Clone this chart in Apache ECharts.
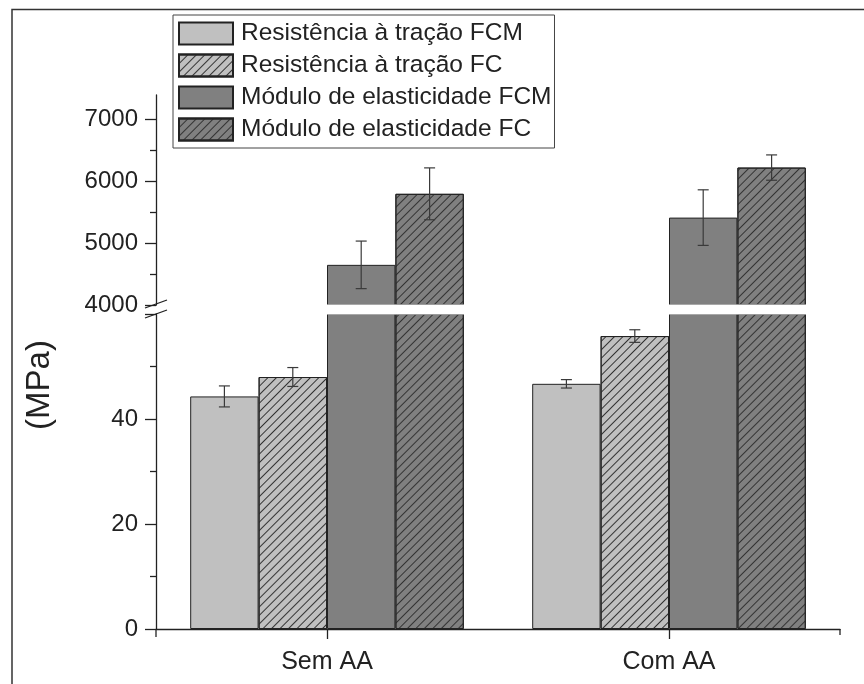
<!DOCTYPE html>
<html>
<head>
<meta charset="utf-8">
<title>Resistência à tração e módulo de elasticidade</title>
<script src="https://cdn.jsdelivr.net/npm/echarts@6/dist/echarts.min.js"></script>
<style>
  html, body { margin: 0; padding: 0; background: #fff; }
  #chart { width: 864px; height: 684px; }
</style>
</head>
<body>
<div id="chart"></div>
<script>
// Categories and series (mean values with standard deviation)
const categories = ['Sem AA', 'Com AA'];
const seriesNames = [
  'Resistência à tração FCM',
  'Resistência à tração FC',
  'Módulo de elasticidade FCM',
  'Módulo de elasticidade FC'
];
const tracaoFCM = [44.3, 46.7];
const tracaoFCMErr = [2.0, 0.8];
const tracaoFC = [48.0, 55.8];
const tracaoFCErr = [1.8, 1.2];
const moduloFCM = [4650, 5415];
const moduloFCMErr = [385, 450];
const moduloFC = [5800, 6225];
const moduloFCErr = [420, 205];

// Broken value axis: lower segment for strength, upper segment for modulus
const lowerTicks = [0, 20, 40, 60];
const upperTickLabels = [4000, 5000, 6000, 7000];
const upperMinorTicks = [4500, 5500, 6500];

const values = [tracaoFCM, tracaoFC, moduloFCM, moduloFC];
const errors = [tracaoFCMErr, tracaoFCErr, moduloFCMErr, moduloFCErr];

const FONT = 'Liberation Sans, Arial, sans-serif';
const TEXT = '#222';
const LIGHT = '#c0c0c0';
const DARK = '#808080';
const hatch = {
  symbol: 'rect',
  symbolSize: 1,
  dashArrayX: [1, 0],
  dashArrayY: [1, 4.2],
  rotation: -Math.PI / 4,
  color: '#333'
};
const styles = [
  { color: LIGHT, borderColor: '#222', borderWidth: 1 },
  { color: LIGHT, borderColor: '#222', borderWidth: 1, decal: hatch },
  { color: DARK, borderColor: '#222', borderWidth: 1 },
  { color: DARK, borderColor: '#222', borderWidth: 1, decal: hatch }
];

const GRID_LEFT = 156, GRID_RIGHT = 24;
const grids = [
  { left: GRID_LEFT, right: GRID_RIGHT, top: 314, bottom: 684 - 629 },
  { left: GRID_LEFT, right: GRID_RIGHT, top: 95, bottom: 684 - 305 }
];

const axisLineStyle = { color: '#222', width: 1.3 };
const plain = v => String(v);

const xAxes = [0, 1].map(g => ({
  type: 'category',
  gridIndex: g,
  data: categories,
  boundaryGap: true,
  show: g === 0,
  axisLine: { show: true, lineStyle: axisLineStyle },
  axisTick: { show: true, alignWithLabel: true, length: 10, lineStyle: axisLineStyle },
  axisLabel: { fontFamily: FONT, fontSize: 25, color: TEXT, margin: 21 }
}));

const yAxes = [
  {
    type: 'value', gridIndex: 0, position: 'left', min: lowerTicks[0], max: lowerTicks[lowerTicks.length - 1], interval: 20,
    splitLine: { show: false },
    axisLine: { show: true, lineStyle: axisLineStyle },
    axisTick: { show: true, length: 11, lineStyle: axisLineStyle },
    minorTick: { show: true, splitNumber: 2, length: 6, lineStyle: axisLineStyle },
    axisLabel: { fontFamily: FONT, fontSize: 24, color: TEXT, margin: 18, showMaxLabel: false, formatter: plain }
  },
  {
    type: 'value', gridIndex: 1, position: 'left', min: 4000, max: 7400, interval: 1000,
    splitLine: { show: false },
    axisLine: { show: true, lineStyle: axisLineStyle },
    axisTick: { show: true, length: 11, lineStyle: axisLineStyle, customValues: upperTickLabels },
    axisLabel: { fontFamily: FONT, fontSize: 24, color: TEXT, margin: 18, customValues: upperTickLabels, formatter: plain }
  },
  {
    // minor ticks of the upper segment
    type: 'value', gridIndex: 1, position: 'left', offset: 0, min: 4000, max: 7400, interval: 500,
    splitLine: { show: false },
    axisLine: { show: false },
    axisTick: { show: true, length: 6, lineStyle: axisLineStyle, customValues: upperMinorTicks },
    axisLabel: { show: false }
  }
];

const series = [];
// bars drawn in both segments; each segment clips what falls outside its range
[0, 1].forEach(g => {
  values.forEach((vals, k) => {
    series.push({
      type: 'bar',
      name: seriesNames[k],
      xAxisIndex: g,
      yAxisIndex: g,
      data: vals,
      clip: true,
      barGap: '0%',
      barCategoryGap: '20%',
      itemStyle: styles[k],
      emphasis: { disabled: true }
    });
  });
});

// error bars: strength on the lower segment, modulus on the upper one
function errorRenderer(k) {
  return function (params, api) {
    const c = api.value(0), v = api.value(1), e = api.value(2);
    const top = api.coord([c, v + e]);
    const bot = api.coord([c, v - e]);
    const band = api.size([1, 0])[0];
    const bw = band * 0.8 / 4;
    const x = top[0] + (k - 1.5) * bw;
    const cap = 5.5;
    const st = { stroke: '#3a3a3a', lineWidth: 1.2 };
    return {
      type: 'group',
      children: [
        { type: 'line', shape: { x1: x, y1: top[1], x2: x, y2: bot[1] }, style: st },
        { type: 'line', shape: { x1: x - cap, y1: top[1], x2: x + cap, y2: top[1] }, style: st },
        { type: 'line', shape: { x1: x - cap, y1: bot[1], x2: x + cap, y2: bot[1] }, style: st }
      ]
    };
  };
}
values.forEach((vals, k) => {
  const g = k < 2 ? 0 : 1;
  series.push({
    type: 'custom',
    name: seriesNames[k] + ' (desvio)',
    xAxisIndex: g,
    yAxisIndex: g,
    z: 10,
    silent: true,
    renderItem: errorRenderer(k),
    encode: { x: 0, y: 1 },
    data: vals.map((v, i) => [i, v, errors[k][i]])
  });
});

const chart = echarts.init(document.getElementById('chart'), null, { renderer: 'canvas' });
chart.setOption({
  animation: false,
  backgroundColor: '#fff',
  grid: grids,
  xAxis: xAxes,
  yAxis: yAxes,
  legend: {
    data: seriesNames.map(n => ({ name: n, icon: 'rect' })),
    orient: 'vertical',
    left: 173,
    top: 15,
    padding: [6, 3, 6, 5],
    itemWidth: 54,
    itemHeight: 22,
    itemGap: 7,
    borderColor: '#444',
    borderWidth: 1,
    selectedMode: false,
    textStyle: { fontFamily: FONT, fontSize: 24.5, color: TEXT, padding: [0, 0, 0, 3] }
  },
  series: series
});

// decorations: outer frame, axis title, axis break
const yUp = chart.convertToPixel({ yAxisIndex: 1 }, 4000);
const yLo = chart.convertToPixel({ yAxisIndex: 0 }, lowerTicks[lowerTicks.length - 1]);
const xRight = 864 - GRID_RIGHT;
chart.setOption({
  graphic: [
    {
      type: 'rect', z: 0, silent: true,
      shape: { x: 12, y: 9.5, width: 900, height: 700 },
      style: { fill: null, stroke: '#333', lineWidth: 1.5 }
    },
    {
      type: 'text', z: 100, silent: true,
      x: 40, y: 385, rotation: Math.PI / 2,
      style: { text: '(MPa)', fontFamily: FONT, fontSize: 33, fill: TEXT, align: 'center', verticalAlign: 'middle' }
    },
    {
      type: 'rect', z: 100, silent: true,
      shape: { x: GRID_LEFT + 1, y: yUp - 0.5, width: xRight - GRID_LEFT + 2, height: yLo - yUp + 1 },
      style: { fill: '#fff' }
    },
    {
      type: 'line', z: 101, silent: true,
      shape: { x1: GRID_LEFT - 11, y1: yUp + 3, x2: GRID_LEFT + 11, y2: yUp - 5 },
      style: { stroke: '#222', lineWidth: 1.3 }
    },
    {
      type: 'line', z: 101, silent: true,
      shape: { x1: GRID_LEFT - 11, y1: yLo + 4, x2: GRID_LEFT + 11, y2: yLo - 4 },
      style: { stroke: '#222', lineWidth: 1.3 }
    },
    {
      type: 'line', z: 101, silent: true,
      shape: { x1: GRID_LEFT, y1: 629, x2: GRID_LEFT, y2: 637 },
      style: { stroke: '#222', lineWidth: 1.3 }
    },
    {
      type: 'line', z: 101, silent: true,
      shape: { x1: xRight, y1: 629, x2: xRight, y2: 635 },
      style: { stroke: '#222', lineWidth: 1.3 }
    }
  ]
});
</script>
</body>
</html>
